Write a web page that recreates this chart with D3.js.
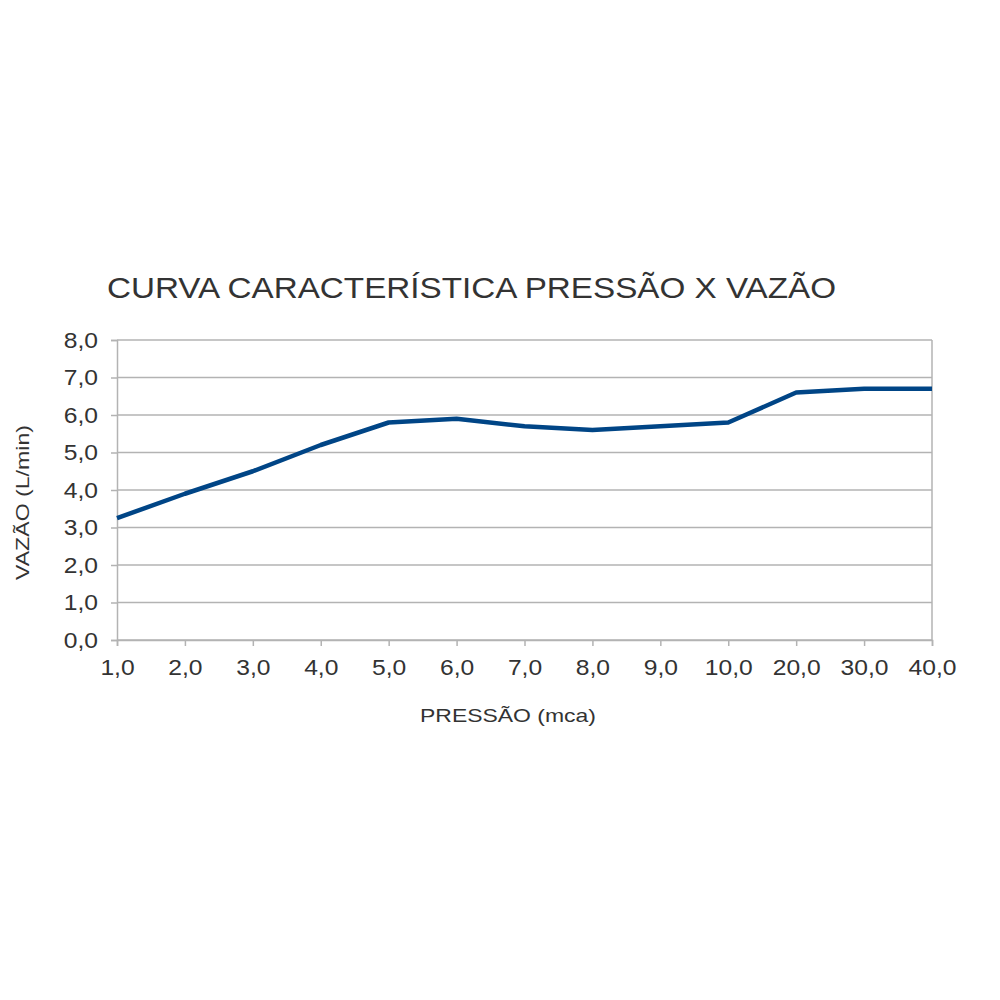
<!DOCTYPE html>
<html>
<head>
<meta charset="utf-8">
<script src="https://cdn.jsdelivr.net/npm/d3@7"></script>
<style>
  body { margin: 0; background: #fff; }
  text { font-family: "Liberation Sans", Arial, sans-serif; }
</style>
</head>
<body>
<div id="chart"></div>
<script>
'use strict';

// data
var pressures = ["1,0", "2,0", "3,0", "4,0", "5,0", "6,0", "7,0", "8,0", "9,0", "10,0", "20,0", "30,0", "40,0"];
var flows = [3.25, 3.9, 4.5, 5.2, 5.8, 5.9, 5.7, 5.6, 5.7, 5.8, 6.6, 6.7, 6.7];
var yTicks = [0, 1, 2, 3, 4, 5, 6, 7, 8];

var title = "CURVA CARACTERÍSTICA PRESSÃO X VAZÃO";
var xTitle = "PRESSÃO (mca)";
var yTitle = "VAZÃO (L/min)";

var W = 1000, H = 1000;
var plot = { left: 117, right: 932, top: 340, bottom: 640 };
var stretch = 1.12; // the picture's text runs a bit wider than the font

var svg = d3.select("#chart").append("svg")
  .attr("width", W)
  .attr("height", H);

var x = d3.scalePoint()
  .domain(pressures)
  .range([plot.left, plot.right])
  .padding(0);

var y = d3.scaleLinear()
  .domain([0, 8])
  .range([plot.bottom, plot.top]);

var fmt = function(d) { return d3.format(".1f")(d).replace(".", ","); };

// GRID
svg.append("g")
  .selectAll("line")
  .data(yTicks)
  .join("line")
  .attr("x1", plot.left)
  .attr("x2", plot.right)
  .attr("y1", function(d) { return y(d); })
  .attr("y2", function(d) { return y(d); })
  .attr("stroke", "#b3b3b3")
  .attr("stroke-width", 1.5);

// right border
svg.append("line")
  .attr("x1", plot.right).attr("x2", plot.right)
  .attr("y1", plot.top).attr("y2", plot.bottom)
  .attr("stroke", "#b3b3b3")
  .attr("stroke-width", 1.5);

// AXES
var yAxis = svg.append("g")
  .attr("transform", "translate(" + plot.left + ",0)")
  .call(d3.axisLeft(y).tickValues(yTicks).tickFormat(fmt).tickSize(6).tickPadding(13));

var xAxis = svg.append("g")
  .attr("transform", "translate(0," + plot.bottom + ")")
  .call(d3.axisBottom(x).tickSize(6).tickPadding(13));

[yAxis, xAxis].forEach(function(a) {
  a.select(".domain").attr("stroke", "#b3b3b3").attr("stroke-width", 1.5);
  a.selectAll(".tick line").attr("stroke", "#b3b3b3").attr("stroke-width", 1.5);
  a.selectAll(".tick text")
    .attr("fill", "#333333")
    .style("font-size", "22px")
    .style("font-family", "'Liberation Sans', Arial, sans-serif")
    .each(function() {
      var len = this.getComputedTextLength();
      d3.select(this).attr("textLength", len * stretch).attr("lengthAdjust", "spacingAndGlyphs");
    });
});

// LINE
var line = d3.line()
  .x(function(d, i) { return x(pressures[i]); })
  .y(function(d) { return y(d); });

svg.append("path")
  .datum(flows)
  .attr("d", line)
  .attr("fill", "none")
  .attr("stroke", "#004586")
  .attr("stroke-width", 4.5)
  .attr("stroke-linejoin", "round");

// TITLES
svg.append("text")
  .attr("x", 107)
  .attr("y", 298)
  .attr("fill", "#333333")
  .style("font-size", "29px")
  .attr("textLength", 729)
  .attr("lengthAdjust", "spacingAndGlyphs")
  .text(title);

svg.append("text")
  .attr("x", 420)
  .attr("y", 722)
  .attr("fill", "#333333")
  .style("font-size", "19px")
  .attr("textLength", 176)
  .attr("lengthAdjust", "spacingAndGlyphs")
  .text(xTitle);

svg.append("text")
  .attr("transform", "translate(29,580) rotate(-90)")
  .attr("fill", "#333333")
  .style("font-size", "18px")
  .attr("textLength", 155)
  .attr("lengthAdjust", "spacingAndGlyphs")
  .text(yTitle);
</script>
</body>
</html>
